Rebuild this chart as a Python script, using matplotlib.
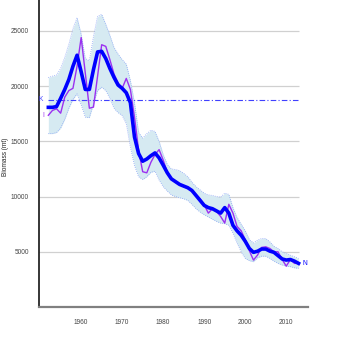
import matplotlib
matplotlib.use("Agg")
import matplotlib.pyplot as plt
import numpy as np

years = list(range(1952, 2014))

estimate = [18080, 18080, 18150, 18900, 19700, 20600, 21800, 22800, 21300, 19700,
            19700, 21500, 23100, 23150, 22500, 21600, 20800, 20100, 19800, 19400,
            18500, 15400, 13900, 13200, 13400, 13700, 13950, 13500, 12840, 12150,
            11600, 11350, 11100, 10950, 10800, 10550, 10100, 9650, 9200, 9000,
            8900, 8700, 8500, 9000, 8500, 7400, 6900, 6500, 5950, 5300,
            4950, 5050, 5250, 5250, 5060, 4950, 4650, 4350, 4250, 4300,
            4150, 3950]

index_obs = [17360, 17800, 17950, 17550, 19000, 19600, 19800, 21800, 24400, 21200,
             18000, 18100, 20900, 23750, 23600, 22400, 21100, 20300, 19800, 20700,
             19700, 17200, 14200, 12250, 12150, 13100, 13800, 14250, 13300, 12200,
             11600, 11300, 11100, 10900, 10750, 10500, 10200, 9800, 9250, 8500,
             8900, 8650, 8200, 7600, 9300, 8500, 7300, 6900, 6100, 5100,
             4250, 4700, 5400, 5450, 5300, 5000, 5000, 4300, 3700, 4300,
             3950, 3950]

upper = [20770, 20900, 21000, 21600, 22600, 23800, 25200, 26200, 24700, 22500,
         22300, 24500, 26300, 26500, 25600, 24600, 23500, 22900, 22400, 22000,
         20500, 18500, 15800, 15300, 15700, 16000, 15900, 15000, 13800, 12900,
         12500, 12450, 12350, 12100, 11800, 11300, 10900, 10600, 10300, 10150,
         10100, 10000, 9950, 10300, 10200, 9000, 8100, 7500, 6900, 6100,
         5800, 6050, 6200, 6200, 5900, 5500, 5300, 5000, 4850, 4700,
         4550, 4400]

lower = [15700, 15700, 15800, 16200, 17000, 18000, 18800, 19300, 18300, 17200,
         17150, 18400, 19600, 19900, 19600, 18900, 18000, 17600, 17350, 16600,
         14500, 12800, 11800, 11550, 11800, 12200, 12300, 11500, 10900, 10500,
         10150, 10000, 9900, 9800, 9650, 9300, 8900, 8600, 8350, 8150,
         7950, 7750, 7600, 7550, 7400, 6700, 5800, 5000, 4400, 4200,
         4100, 4450, 4600, 4600, 4400, 4150, 3950, 3800, 3700, 3650,
         3550, 3500]

K_value = 18760
yticks = [5000, 10000, 15000, 20000, 25000]
xticks = [1960, 1970, 1980, 1990, 2000, 2010]
ylabel = "Biomass (mt)"

plt.rcParams['font.family'] = ['Liberation Sans', 'DejaVu Sans']

fig = plt.figure(figsize=(3.39, 3.39), dpi=100)
ax = fig.add_axes([38.5 / 339, 32 / 339, (308 - 38.5) / 339, 307 / 339])

ax.set_xlim(1949.6, 2015.3)
ax.set_ylim(0, 27800)

# grid lines ending at the data end
ax.hlines(yticks, 1949.6, years[-1], colors='#d0d0d0', linewidth=0.9, zorder=0)

ax.fill_between(years, lower, upper, color='#d6eaf2', linewidth=0, zorder=1)
ax.plot(years, upper, color='#8aa4f5', linestyle=(0, (1, 1.5)), linewidth=0.6, zorder=2)
ax.plot(years, lower, color='#8aa4f5', linestyle=(0, (1, 1.5)), linewidth=0.6, zorder=2)

ax.plot([years[0], years[-1]], [K_value, K_value], color='#4040ff',
        linestyle=(0, (5, 2, 1, 2)), linewidth=0.8, zorder=3)

ax.plot(years, index_obs, color='#9b30f0', linewidth=1.0, zorder=4)
ax.plot(years, estimate, color='#0000ff', linewidth=2.6, zorder=5,
        solid_joinstyle='round')

ax.text(years[0] - 1.3, K_value, "K", color='#4040ff', fontsize=4.8,
        ha='right', va='center')
ax.text(years[0] - 1.0, index_obs[0], "I", color='#9b30f0', fontsize=4.8,
        ha='right', va='center')
ax.text(years[-1] + 1.0, estimate[-1], "N", color='#0000ff', fontsize=4.8,
        ha='left', va='center')

ax.set_yticks(yticks)
ax.set_yticklabels([str(v) for v in yticks])
ax.set_xticks(xticks)
ax.set_xticklabels([str(v) for v in xticks])
ax.tick_params(axis='both', length=0, labelsize=4.7, labelcolor='#444444')
ax.tick_params(axis='y', pad=7)
ax.tick_params(axis='x', pad=9)

ax.set_ylabel(ylabel, fontsize=4.7, color='#222222')
ax.yaxis.set_label_coords(-0.108, 0.49)

for s in ['top', 'right']:
    ax.spines[s].set_visible(False)
ax.spines['left'].set_color('black')
ax.spines['left'].set_linewidth(1.1)
ax.spines['bottom'].set_color('#808080')
ax.spines['bottom'].set_linewidth(1.6)

fig.savefig('out.png', dpi=100)
